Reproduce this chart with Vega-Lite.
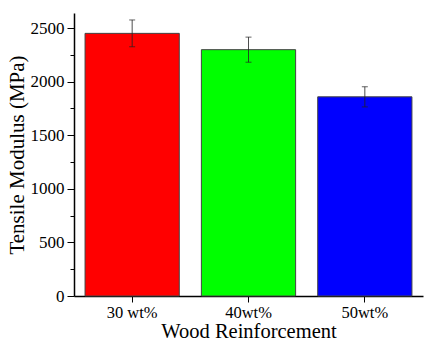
{
  "$schema": "https://vega.github.io/schema/vega-lite/v6.json",
  "width": 349,
  "height": 283,
  "autosize": {"type": "none"},
  "padding": {"left": 74, "top": 13, "right": 2, "bottom": 47},
  "background": "white",
  "config": {
    "view": {"stroke": null},
    "font": "Liberation Serif",
    "axis": {
      "labelFont": "Liberation Serif",
      "titleFont": "Liberation Serif",
      "labelColor": "#000",
      "titleColor": "#000",
      "domainColor": "#000",
      "tickColor": "#000",
      "titleFontWeight": "normal",
      "grid": false
    }
  },
  "data": {
    "values": [
      {"group": "30 wt%", "modulus": 2450, "err": 125, "color": "#ff0000"},
      {"group": "40wt%", "modulus": 2298, "err": 117, "color": "#00ff00"},
      {"group": "50wt%", "modulus": 1858, "err": 94, "color": "#0000ff"}
    ]
  },
  "encoding": {
    "x": {
      "field": "group",
      "type": "nominal",
      "sort": null,
      "scale": {"paddingInner": 0.19, "paddingOuter": 0.095},
      "axis": {
        "title": "Wood Reinforcement",
        "labelAngle": 0,
        "labelFontSize": 16.5,
        "titleFontSize": 20.5,
        "tickSize": 6,
        "domainWidth": 1.5,
        "labelPadding": 2,
        "titlePadding": 1
      }
    },
    "y": {
      "field": "modulus",
      "type": "quantitative",
      "title": "Tensile Modulus (MPa)",
      "scale": {"domain": [0, 2640], "nice": false},
      "axis": {
        "values": [0, 250, 500, 750, 1000, 1250, 1500, 1750, 2000, 2250, 2500],
        "labelExpr": "datum.value % 500 === 0 ? datum.label : ''",
        "format": "d",
        "tickSize": {"condition": {"test": "datum.value % 500 === 0", "value": 7}, "value": 4},
        "labelFontSize": 17,
        "titleFontSize": 21,
        "domainWidth": 1.5,
        "labelPadding": 3,
        "titlePadding": 3
      }
    }
  },
  "layer": [
    {
      "mark": {"type": "bar", "stroke": "#444", "strokeWidth": 1},
      "encoding": {
        "color": {"field": "color", "type": "nominal", "scale": null, "legend": null}
      }
    },
    {
      "mark": {"type": "errorbar", "ticks": {"size": 6, "color": "#222"}, "rule": {"color": "#222", "opacity": 0.8}},
      "encoding": {
        "yError": {"field": "err"}
      }
    }
  ]
}
